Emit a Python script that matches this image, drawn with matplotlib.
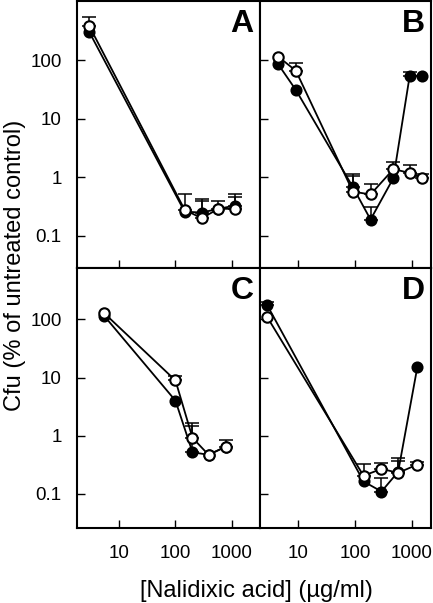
import numpy as np
import matplotlib
matplotlib.use("Agg")
import matplotlib.pyplot as plt

plt.rcParams["font.family"] = ["Liberation Sans", "DejaVu Sans"]

# values (x in ug/ml, y in % of untreated control)
# nan in *_cap means no error bar drawn for that point
a_x = [3, 145, 290, 575, 1150]
a_filled = [300, 0.26, 0.25, 0.29, 0.33]
a_open = [380, 0.28, 0.20, 0.29, 0.29]
a_filled_cap = [np.nan, np.nan, 0.39, np.nan, 0.46]
a_open_cap = [540, 0.52, 0.43, 0.39, 0.52]

b_x = [4.4, 9, 91, 186, 470, 910, 1480]
b_filled = [85, 31, 0.68, 0.19, 0.97, 54, 54]
b_open = [115, 66, 0.57, 0.51, 1.38, 1.19, 0.97]
b_filled_cap = [np.nan, np.nan, 1.05, 0.31, np.nan, 64, np.nan]
b_open_cap = [np.nan, 89, 1.15, 0.77, 1.80, 1.65, 1.15]

c_x = [5.5, 100, 200, 385, 780]
c_filled = [114, 4.0, 0.52, 0.47, 0.65]
c_open = [127, 8.9, 0.92, 0.47, 0.65]
c_filled_cap = [np.nan, np.nan, 1.45, np.nan, np.nan]
c_open_cap = [np.nan, 10.7, 1.64, np.nan, 0.83]

d_x = [2.8, 140, 290, 570, 1240]
d_filled = [176, 0.164, 0.11, 0.24, 15]
d_open = [110, 0.205, 0.27, 0.23, 0.32]
d_filled_cap = [200, np.nan, 0.19, 0.37, np.nan]
d_open_cap = [np.nan, 0.33, 0.34, 0.41, 0.36]

panels = [
    ("A", a_x, a_filled, a_open, a_filled_cap, a_open_cap),
    ("B", b_x, b_filled, b_open, b_filled_cap, b_open_cap),
    ("C", c_x, c_filled, c_open, c_filled_cap, c_open_cap),
    ("D", d_x, d_filled, d_open, d_filled_cap, d_open_cap),
]

W, H = 433, 603
fig = plt.figure(figsize=(W / 100, H / 100), dpi=100)

# axes boxes in pixels: left, right, top, bottom
cols = [(77, 260), (260, 431)]
rows = [(1, 268), (268, 528)]
xlims = [(1.81, 3130), (2.1, 2160)]
ylims = [(0.0283, 1025), (0.026, 760)]


def draw_errs(ax, x, y, cap, z):
    x = np.asarray(x, float)
    y = np.asarray(y, float)
    cap = np.asarray(cap, float)
    m = ~np.isnan(cap)
    if m.any():
        up = cap[m] - y[m]
        ax.errorbar(x[m], y[m], yerr=[np.zeros_like(up), up], fmt="none",
                    ecolor="black", elinewidth=1.1, capsize=5, capthick=1.1,
                    zorder=z)


for i, (label, x, yf, yo, cf, co) in enumerate(panels):
    r, c = divmod(i, 2)
    l, rr = cols[c]
    t, b = rows[r]
    ax = fig.add_axes([l / W, 1 - b / H, (rr - l) / W, (b - t) / H])
    ax.set_xscale("log")
    ax.set_yscale("log")
    ax.set_xlim(*xlims[c])
    ax.set_ylim(*ylims[r])

    draw_errs(ax, x, yf, cf, 1)
    draw_errs(ax, x, yo, co, 3)
    ax.plot(x, yf, "-o", color="black", lw=1.3, ms=7.5, mfc="black",
            mec="black", mew=1.2, zorder=2)
    ax.plot(x, yo, "-o", color="black", lw=1.3, ms=7.5, mfc="white",
            mec="black", mew=1.5, zorder=4)

    ax.set_xticks([10, 100, 1000])
    ax.set_yticks([0.1, 1, 10, 100])
    ax.minorticks_off()
    ax.tick_params(direction="in", length=6, width=1.0, labelsize=13.5)
    ax.tick_params(axis="x", pad=12)
    ax.tick_params(axis="y", pad=11)
    if c == 0:
        ax.set_yticklabels(["0.1", "1", "10", "100"])
    else:
        ax.set_yticklabels([])
    if r == 1:
        ax.set_xticklabels(["10", "100", "1000"])
    else:
        ax.set_xticklabels([])
    for s in ax.spines.values():
        s.set_linewidth(1.5)

    ax.text(0.965, 0.97, label, transform=ax.transAxes, ha="right",
            va="top", fontsize=23, fontweight="bold")

fig.text(256 / W, 1 - 591 / H, "[Nalidixic acid] (\u00b5g/ml)",
         ha="center", va="center", fontsize=17)
fig.text(15 / W, 1 - 265 / H, "Cfu (% of untreated control)",
         ha="center", va="center", rotation=90, fontsize=17)

fig.savefig("out.png", dpi=100)
